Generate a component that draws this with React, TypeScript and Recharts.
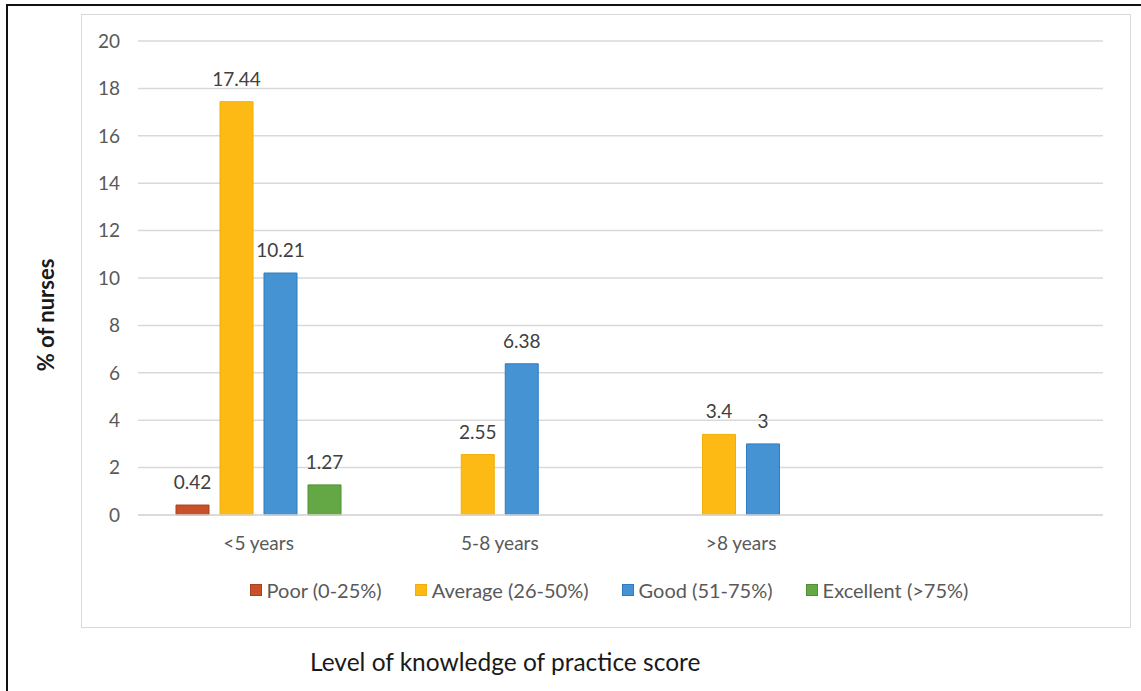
import { BarChart, Bar, XAxis, YAxis, CartesianGrid, Legend, LabelList } from 'recharts';

// experience bands (the fourth slot is left empty on the axis)
const categories = ['<5 years', '5-8 years', '>8 years', ''];

const poor = [0.42, null, null, null];
const average = [17.44, 2.55, 3.4, null];
const good = [10.21, 6.38, 3, null];
const excellent = [1.27, null, null, null];

const yTicks = [0, 2, 4, 6, 8, 10, 12, 14, 16, 18, 20];

const series = [
  { key: 'poor', name: 'Poor (0-25%)', fill: '#C8502A', stroke: '#A9411D' },
  { key: 'average', name: 'Average (26-50%)', fill: '#FDBA15', stroke: '#F0AE08' },
  { key: 'good', name: 'Good (51-75%)', fill: '#4593D3', stroke: '#2F7CC1' },
  { key: 'excellent', name: 'Excellent (>75%)', fill: '#63A844', stroke: '#4E9033' },
];

const chartData = categories.map((name, i) => ({
  name,
  poor: poor[i],
  average: average[i],
  good: good[i],
  excellent: excellent[i],
}));

const FONT = 'Lato, "Open Sans", sans-serif';

function LegendContent() {
  return (
    <div style={{ display: 'flex', justifyContent: 'center', gap: 33, fontFamily: FONT, fontSize: 20, color: '#595959' }}>
      {series.map((s) => (
        <div key={s.key} style={{ display: 'flex', alignItems: 'center' }}>
          <span
            style={{
              display: 'inline-block',
              width: 10,
              height: 10,
              background: s.fill,
              border: `1px solid ${s.stroke}`,
              marginRight: 5,
            }}
          />
          {s.name}
        </div>
      ))}
    </div>
  );
}

export default function App() {
  return (
    <div style={{ position: 'fixed', left: 0, top: 0, width: 1141, height: 691, overflow: 'hidden', background: '#fff' }}>
      {/* outer frame */}
      <div style={{ position: 'absolute', left: 6, top: 4, width: 1200, height: 800, border: '2px solid #111' }} />
      {/* chart area frame */}
      <div style={{ position: 'absolute', left: 81, top: 14, width: 1048, height: 612, border: '1.5px solid #d9d9d9' }} />

      <div style={{ position: 'absolute', left: 0, top: 0 }}>
        <BarChart
          width={1141}
          height={691}
          data={chartData}
          margin={{ top: 41, right: 38, bottom: 110, left: 18 }}
          barCategoryGap={38}
          barGap={11}
        >
          <CartesianGrid vertical={false} stroke="#d9d9d9" strokeWidth={1.5} />
          <XAxis
            dataKey="name"
            axisLine={{ stroke: '#d9d9d9', strokeWidth: 1.5 }}
            tickLine={false}
            tickMargin={16}
            height={40}
            tick={{ fontFamily: FONT, fontSize: 19, fill: '#595959' }}
          />
          <YAxis
            width={120}
            domain={[0, 20]}
            ticks={yTicks}
            axisLine={false}
            tickLine={false}
            tickMargin={12}
            tick={{ fontFamily: FONT, fontSize: 19, fill: '#595959' }}
          />
          <Legend
            content={<LegendContent />}
            wrapperStyle={{ position: 'absolute', top: 578, left: 0, width: 1218, height: 26 }}
          />
          {series.map((s) => (
            <Bar
              key={s.key}
              dataKey={s.key}
              name={s.name}
              fill={s.fill}
              stroke={s.stroke}
              strokeWidth={1}
              isAnimationActive={false}
            >
              <LabelList
                dataKey={s.key}
                position="top"
                offset={16}
                style={{ fontFamily: FONT, fontSize: 19, fill: '#404040' }}
              />
            </Bar>
          ))}
        </BarChart>
      </div>

      {/* y axis title */}
      <div
        style={{
          position: 'absolute',
          left: 45,
          top: 315,
          transform: 'translate(-50%, -50%) rotate(-90deg)',
          fontFamily: FONT,
          fontSize: 22,
          fontWeight: 700,
          color: '#1a1a1a',
          whiteSpace: 'nowrap',
        }}
      >
        % of nurses
      </div>

      {/* x axis title */}
      <div
        style={{
          position: 'absolute',
          left: 310,
          top: 647,
          fontFamily: FONT,
          fontSize: 24.5,
          color: '#1a1a1a',
          whiteSpace: 'nowrap',
        }}
      >
        Level of knowledge of practice score
      </div>
    </div>
  );
}
